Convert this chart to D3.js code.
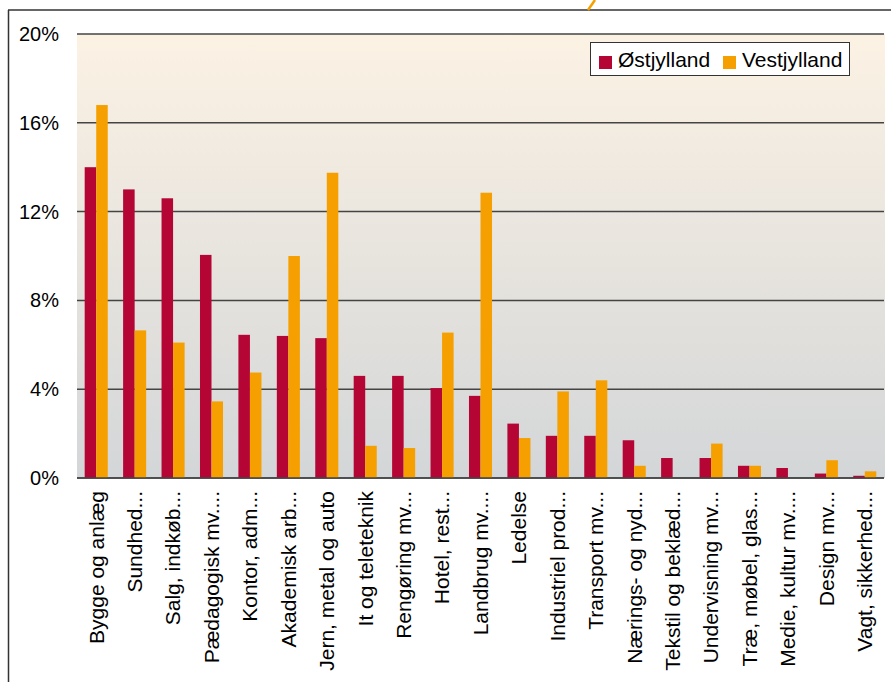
<!DOCTYPE html>
<html>
<head>
<meta charset="utf-8">
<script src="https://cdn.jsdelivr.net/npm/d3@7"></script>
<style>
  body { margin: 0; background: #ffffff; }
  svg { display: block; }
</style>
</head>
<body>
<div id="chart-area"></div>
<script>
var categories = ["Bygge og anlæg", "Sundhed...", "Salg, indkøb...", "Pædagogisk mv....",
                  "Kontor, adm...", "Akademisk arb...", "Jern, metal og auto", "It og teleteknik",
                  "Rengøring mv...", "Hotel, rest...", "Landbrug mv....", "Ledelse",
                  "Industriel prod...", "Transport mv...", "Nærings- og nyd...", "Tekstil og beklæd...",
                  "Undervisning mv...", "Træ, møbel, glas...", "Medie, kultur mv....", "Design mv...",
                  "Vagt, sikkerhed..."];
var seriesNames = ["Østjylland", "Vestjylland"];
var ostjylland  = [14.0, 13.0, 12.6, 10.05, 6.45, 6.4, 6.3, 4.6, 4.6, 4.05, 3.7, 2.45,
                   1.9, 1.9, 1.7, 0.9, 0.9, 0.55, 0.45, 0.2, 0.1];
var vestjylland = [16.8, 6.65, 6.1, 3.45, 4.75, 10.0, 13.75, 1.45, 1.35, 6.55, 12.85, 1.8,
                   3.9, 4.4, 0.55, 0.0, 1.55, 0.55, 0.0, 0.8, 0.3];
var yTicks = [0, 4, 8, 12, 16, 20];
var colors = ["#b40535", "#f5a000"];

var svgWidth = 891, svgHeight = 682;
var plot = { left: 77, right: 884, top: 34, bottom: 478 };

var svg = d3.select("#chart-area")
            .append("svg")
            .attr("width", svgWidth)
            .attr("height", svgHeight)
            .style("font-family", "'Liberation Sans', Arial, sans-serif");

// outer frame (top + left edges visible)
svg.append("line")
   .attr("x1", 8).attr("x2", svgWidth).attr("y1", 10).attr("y2", 10)
   .attr("stroke", "#333").attr("stroke-width", 1.5);
svg.append("line")
   .attr("x1", 8.5).attr("x2", 8.5).attr("y1", 10).attr("y2", svgHeight)
   .attr("stroke", "#333").attr("stroke-width", 1.5);
// little orange stroke sticking in from above
svg.append("line")
   .attr("x1", 595).attr("y1", 0).attr("x2", 588).attr("y2", 10)
   .attr("stroke", "#f5a000").attr("stroke-width", 2.5);

// plot background gradient
var defs = svg.append("defs");
var grad = defs.append("linearGradient")
               .attr("id", "bg").attr("x1", 0).attr("y1", 0).attr("x2", 0).attr("y2", 1);
grad.append("stop").attr("offset", "0%").attr("stop-color", "#fcf2e4");
grad.append("stop").attr("offset", "100%").attr("stop-color", "#d3d6d8");

svg.append("rect")
   .attr("x", plot.left).attr("y", plot.top)
   .attr("width", plot.right - plot.left + 1)
   .attr("height", plot.bottom - plot.top)
   .attr("fill", "url(#bg)");

var x = d3.scaleBand()
          .domain(categories)
          .range([plot.left, plot.right])
          .paddingInner(0.4)
          .paddingOuter(0.2);

var x1 = d3.scaleBand()
           .domain(seriesNames)
           .range([0, x.bandwidth()]);

var y = d3.scaleLinear()
          .domain([0, 20])
          .range([plot.bottom, plot.top]);

// gridlines
svg.append("g")
   .selectAll("line")
   .data(yTicks)
   .enter()
   .append("line")
   .attr("x1", plot.left).attr("x2", plot.right)
   .attr("y1", (d) => y(d)).attr("y2", (d) => y(d))
   .attr("stroke", "#444")
   .attr("stroke-width", 1.5);

// y labels
svg.append("g")
   .selectAll("text")
   .data(yTicks)
   .enter()
   .append("text")
   .attr("x", 59)
   .attr("y", (d) => y(d))
   .attr("dy", "0.35em")
   .attr("text-anchor", "end")
   .attr("font-size", "20px")
   .attr("fill", "#000")
   .text((d) => d + "%");

// bars
var rows = categories.map((c, i) => ({ name: c, values: [ostjylland[i], vestjylland[i]] }));

var groups = svg.append("g")
                .selectAll("g")
                .data(rows)
                .enter()
                .append("g")
                .attr("transform", (d) => "translate(" + x(d.name) + ",0)");

groups.selectAll("rect")
      .data((d) => d.values.map((v, j) => ({ series: seriesNames[j], value: v, color: colors[j] })))
      .enter()
      .append("rect")
      .attr("x", (d) => x1(d.series))
      .attr("width", x1.bandwidth())
      .attr("y", (d) => y(d.value))
      .attr("height", (d) => plot.bottom - y(d.value))
      .attr("fill", (d) => d.color);

// baseline on top
svg.append("line")
   .attr("x1", plot.left).attr("x2", plot.right)
   .attr("y1", y(0)).attr("y2", y(0))
   .attr("stroke", "#444").attr("stroke-width", 1.5);

// x labels rotated
svg.append("g")
   .selectAll("text")
   .data(categories)
   .enter()
   .append("text")
   .attr("transform", (d) => "translate(" + (x(d) + x.bandwidth() / 2) + "," + 491 + ") rotate(-90)")
   .attr("dy", "0.35em")
   .attr("text-anchor", "end")
   .attr("font-size", "21px")
   .attr("fill", "#000")
   .text((d) => d);

// legend
var legend = svg.append("g").attr("transform", "translate(590,42)");
legend.append("rect")
      .attr("x", 0.5).attr("y", 0.5).attr("width", 259).attr("height", 33)
      .attr("fill", "#fff").attr("stroke", "#333").attr("stroke-width", 1);
var legendX = [9, 133];
seriesNames.forEach(function(s, i) {
    legend.append("rect")
          .attr("x", legendX[i]).attr("y", 14).attr("width", 13).attr("height", 13)
          .attr("fill", colors[i]);
    legend.append("text")
          .attr("x", legendX[i] + 19).attr("y", 25)
          .attr("font-size", "21px")
          .attr("fill", "#000")
          .text(s);
});
</script>
</body>
</html>
